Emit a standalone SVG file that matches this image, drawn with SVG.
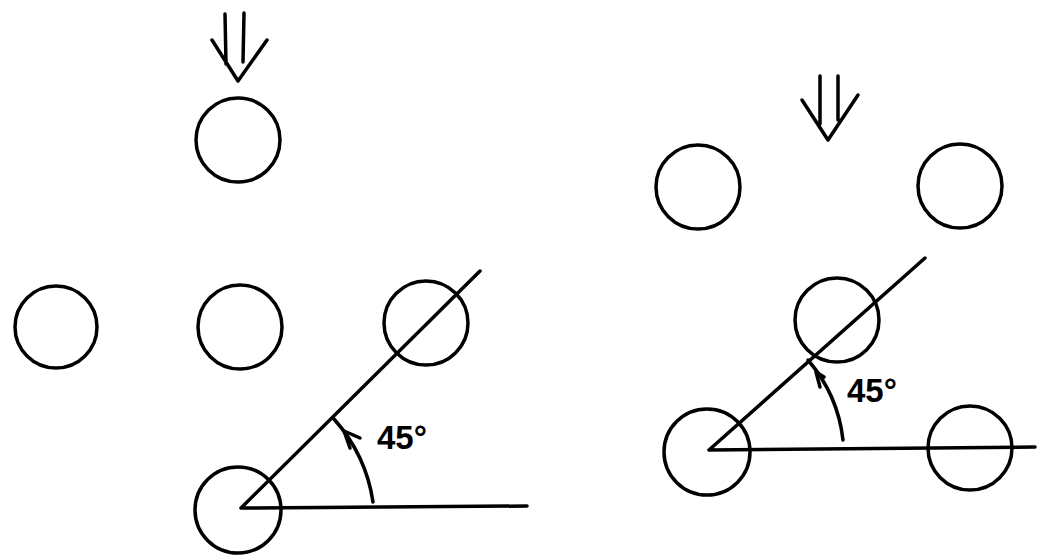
<svg xmlns="http://www.w3.org/2000/svg" width="1041" height="556" viewBox="0 0 1041 556">
<style>
.c{fill:none;stroke:#000;stroke-width:3.5}
.l{fill:none;stroke:#000;stroke-width:3.5;stroke-linecap:round;stroke-linejoin:round}
.t{font-family:"Liberation Sans",sans-serif;font-size:33px;font-weight:bold;fill:#000}
</style>
<rect width="1041" height="556" fill="#fff"/>
<g id="left-diagram">
<g id="arrow-left"><path class="l" d="M225,14 L226,64 M244,13 L243,62 M212,40 L238,81 L267,40"/></g>
<circle id="l-top" class="c" cx="238" cy="140" r="42"/>
<circle id="l-mid1" class="c" cx="56" cy="327" r="41"/>
<circle id="l-mid2" class="c" cx="240" cy="327" r="42"/>
<circle id="l-mid3" class="c" cx="426" cy="323" r="42"/>
<circle id="l-bot" class="c" cx="238" cy="510" r="43"/>
<g id="l-connectors">
<path class="l" d="M241,508 L480,271 M241,508 L527,506"/>
<path class="l" d="M373,502 Q366,455 334,419"/>
<path class="l" d="M344,431 L350,448 M344,431 L360,438"/>
</g>
<text class="t" x="377" y="449">45°</text>
</g>
<g id="right-diagram">
<g id="arrow-right"><path class="l" d="M820,76 L820,124 M838,76 L838,120 M802,100 L828,140 L858,95"/></g>
<circle id="r-top1" class="c" cx="698" cy="187" r="42"/>
<circle id="r-top2" class="c" cx="960" cy="186" r="42"/>
<circle id="r-mid" class="c" cx="837" cy="320" r="42"/>
<circle id="r-bot1" class="c" cx="707" cy="452" r="43"/>
<circle id="r-bot2" class="c" cx="970" cy="448" r="42"/>
<g id="r-connectors">
<path class="l" d="M709,450 L925,258 M709,450 L1035,447"/>
<path class="l" d="M843,440 Q838,395 808,360"/>
<path class="l" d="M816,372 L820,387 M816,372 L824,377"/>
</g>
<text class="t" x="847" y="402">45°</text>
</g>
</svg>
